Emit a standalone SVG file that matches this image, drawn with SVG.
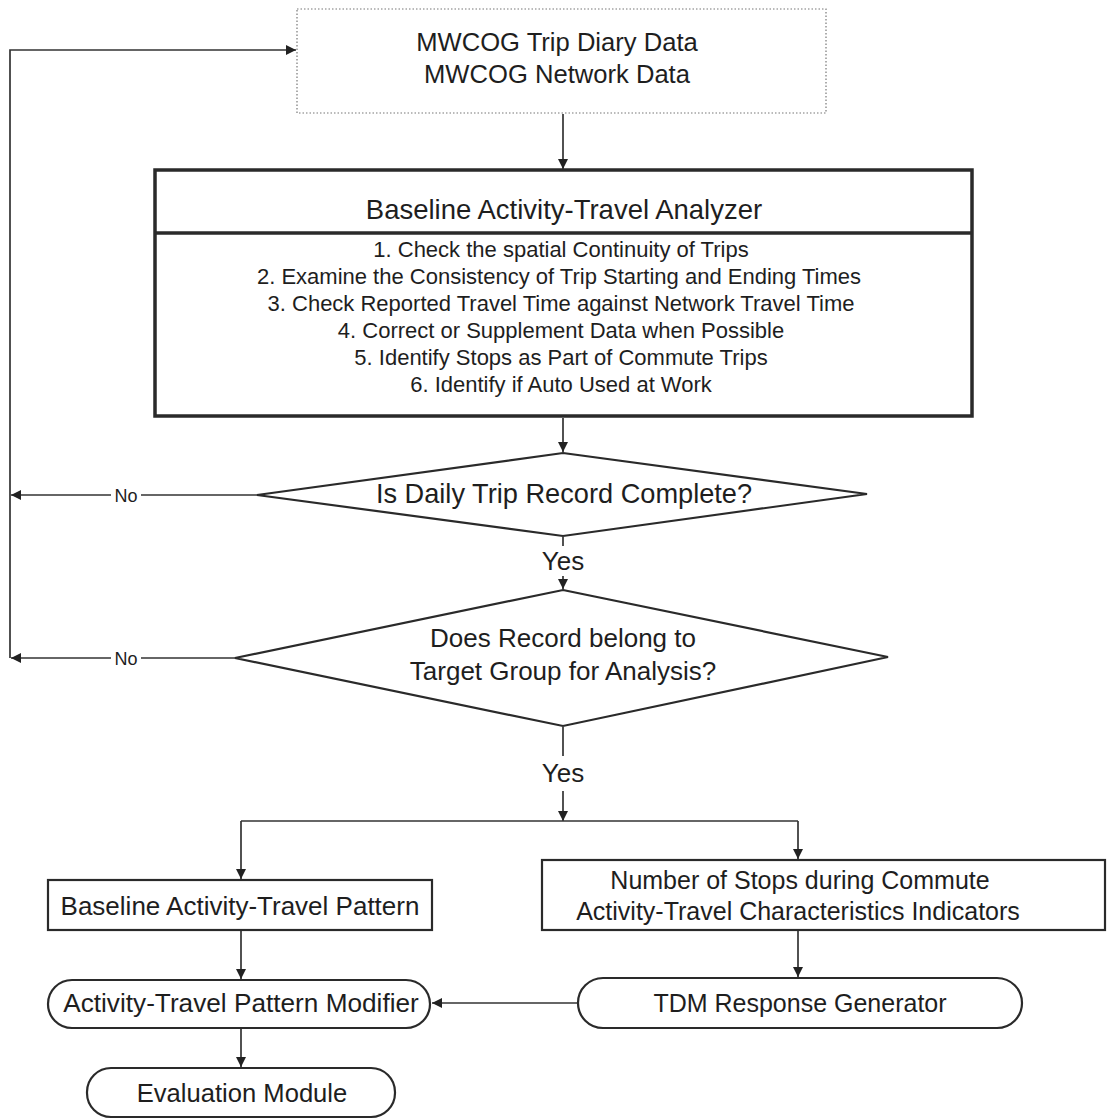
<svg xmlns="http://www.w3.org/2000/svg" width="1110" height="1119" viewBox="0 0 1110 1119">
  <style>
    text { font-family: "Liberation Sans", Arial, sans-serif; fill: #1e1e1e; text-anchor: middle; }
    .t25 { font-size: 25px; }
    .t22 { font-size: 22px; }
    .t18 { font-size: 18px; }
    .box { fill: #fff; stroke: #2a2a2a; stroke-width: 2.2; }
    .thick { fill: #fff; stroke: #2a2a2a; stroke-width: 3.5; }
    .dotted { fill: #fff; stroke: #777; stroke-width: 1.2; stroke-dasharray: 1.5 2; }
    .wire { fill: none; stroke: #333; stroke-width: 1.7; }
  </style>
  <defs>
    <marker id="arrow" viewBox="0 0 10 10" refX="10" refY="5" markerWidth="10" markerHeight="10" markerUnits="userSpaceOnUse" orient="auto">
      <path d="M0,0 L10,5 L0,10 z" fill="#222"/>
    </marker>
  </defs>

  <rect width="1110" height="1119" fill="#fff"/>

  <!-- connectors -->
  <g id="connectors">
    <!-- feedback loop from the two "No" exits back to the data source -->
    <polyline class="wire" points="10,658 10,50 296,50" marker-end="url(#arrow)"/>
    <line class="wire" x1="257" y1="495" x2="11" y2="495" marker-end="url(#arrow)"/>
    <line class="wire" x1="235" y1="658" x2="11" y2="658" marker-end="url(#arrow)"/>
    <rect x="111" y="485" width="30" height="20" fill="#fff"/>
    <text class="t18" x="126" y="502">No</text>
    <rect x="111" y="648" width="30" height="20" fill="#fff"/>
    <text class="t18" x="126" y="665">No</text>

    <line class="wire" x1="563" y1="114" x2="563" y2="169" marker-end="url(#arrow)"/>
    <line class="wire" x1="563" y1="418" x2="563" y2="452" marker-end="url(#arrow)"/>

    <line class="wire" x1="563" y1="537" x2="563" y2="546"/>
    <text x="563" y="570" style="font-size:26px">Yes</text>
    <line class="wire" x1="563" y1="576" x2="563" y2="589" marker-end="url(#arrow)"/>

    <line class="wire" x1="563" y1="727" x2="563" y2="756"/>
    <text x="563" y="782" style="font-size:26px">Yes</text>
    <line class="wire" x1="563" y1="791" x2="563" y2="821" marker-end="url(#arrow)"/>

    <line class="wire" x1="241" y1="821" x2="798" y2="821"/>
    <line class="wire" x1="241" y1="821" x2="241" y2="879" marker-end="url(#arrow)"/>
    <line class="wire" x1="798" y1="821" x2="798" y2="859" marker-end="url(#arrow)"/>

    <line class="wire" x1="241" y1="931" x2="241" y2="979" marker-end="url(#arrow)"/>
    <line class="wire" x1="798" y1="931" x2="798" y2="977" marker-end="url(#arrow)"/>
    <line class="wire" x1="578" y1="1003" x2="432" y2="1003" marker-end="url(#arrow)"/>
    <line class="wire" x1="241" y1="1029" x2="241" y2="1067" marker-end="url(#arrow)"/>
  </g>

  <!-- data source -->
  <g id="data-source">
    <rect class="dotted" x="297" y="9" width="529" height="104"/>
    <text x="557" y="51" style="font-size:25.6px">MWCOG Trip Diary Data</text>
    <text x="557" y="83" style="font-size:25.6px">MWCOG Network Data</text>
  </g>

  <!-- analyzer -->
  <g id="analyzer">
    <rect class="thick" x="155" y="170" width="817" height="246"/>
    <line x1="155" y1="233" x2="972" y2="233" stroke="#2a2a2a" stroke-width="3.5"/>
    <text x="564" y="219" style="font-size:27.5px">Baseline Activity-Travel Analyzer</text>
    <text class="t22" x="561" y="257">1. Check the spatial Continuity of Trips</text>
    <text class="t22" x="559" y="284">2. Examine the Consistency of Trip Starting and Ending Times</text>
    <text class="t22" x="561" y="311">3. Check Reported Travel Time against Network Travel Time</text>
    <text class="t22" x="561" y="338">4. Correct or Supplement Data when Possible</text>
    <text class="t22" x="561" y="365">5. Identify Stops as Part of Commute Trips</text>
    <text class="t22" x="561" y="392">6. Identify if Auto Used at Work</text>
  </g>

  <!-- decision: completeness -->
  <g id="decision-complete">
    <polygon class="box" points="563,453 867,494 563,536 257,495"/>
    <text x="564" y="503" style="font-size:27.2px">Is Daily Trip Record Complete?</text>
  </g>

  <!-- decision: target group -->
  <g id="decision-target">
    <polygon class="box" points="563,590 888,657 563,726 235,658"/>
    <text x="563" y="647" style="font-size:26px">Does Record belong to</text>
    <text x="563" y="680" style="font-size:26px">Target Group for Analysis?</text>
  </g>

  <!-- baseline pattern -->
  <g id="baseline-pattern">
    <rect class="box" x="48" y="880" width="384" height="50"/>
    <text x="240" y="915" style="font-size:26px">Baseline Activity-Travel Pattern</text>
  </g>

  <!-- commute indicators -->
  <g id="commute-indicators">
    <rect class="box" x="542" y="860" width="563" height="70"/>
    <text class="t25" x="800" y="889">Number of Stops during Commute</text>
    <text class="t25" x="798" y="920">Activity-Travel Characteristics Indicators</text>
  </g>

  <!-- TDM response generator -->
  <g id="tdm-generator">
    <rect class="box" x="578" y="978" width="444" height="50" rx="25" ry="25"/>
    <text class="t25" x="800" y="1012">TDM Response Generator</text>
  </g>

  <!-- pattern modifier -->
  <g id="pattern-modifier">
    <rect class="box" x="48" y="980" width="382" height="48" rx="24" ry="24"/>
    <text x="241" y="1012" style="font-size:26.2px">Activity-Travel Pattern Modifier</text>
  </g>

  <!-- evaluation -->
  <g id="evaluation">
    <rect class="box" x="87" y="1068" width="308" height="49" rx="24" ry="24"/>
    <text x="242" y="1102" style="font-size:25.6px">Evaluation Module</text>
  </g>
</svg>
